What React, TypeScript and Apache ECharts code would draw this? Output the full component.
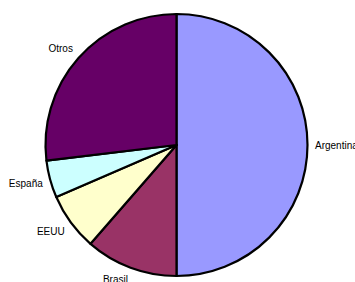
import React, { useEffect, useRef } from "react";
import * as echarts from "echarts";

const categories = ["Argentina", "Brasil", "EEUU", "España", "Otros"];
const values = [50.0, 11.4, 7.1, 4.6, 26.9];
const colors = ["#9999FF", "#993366", "#FFFFCC", "#CCFFFF", "#660066"];

const W = 355;
const H = 282;
const CX = 176.5;
const CY = 145;
const R = 131;

export default function App() {
  const ref = useRef<HTMLDivElement>(null);
  useEffect(() => {
    if (!ref.current) return;
    const chart = echarts.init(ref.current, null, { renderer: "svg" });
    const total = values.reduce((a, b) => a + b, 0);
    const mids: number[] = [];
    let acc = 0;
    values.forEach((v) => {
      mids.push(((acc + v / 2) / total) * Math.PI * 2);
      acc += v;
    });
    chart.setOption({
      animation: false,
      backgroundColor: "#ffffff",
      series: [
        {
          type: "pie",
          center: [CX, CY],
          radius: R,
          startAngle: 90,
          clockwise: true,
          silent: true,
          data: categories.map((c, i) => ({
            name: c,
            value: values[i],
            itemStyle: { color: colors[i] },
          })),
          itemStyle: { borderColor: "#000000", borderWidth: 2.2 },
          label: {
            show: true,
            position: "outside",
            formatter: "{b}",
            fontSize: 10,
            color: "#000000",
            fontFamily: "Liberation Sans, Arial, sans-serif",
            overflow: "none",
            width: 80,
            edgeDistance: 0,
          },
          labelLine: { show: false, length: 6, length2: 0 },
          labelLayout: (params: any) => {
            const th = mids[params.dataIndex];
            const ux = Math.sin(th);
            const uy = -Math.cos(th);
            const d = R + 7.5;
            const px = CX + d * ux;
            const py = CY + d * uy;
            const h = 10;
            const k = Math.max(-1, Math.min(1, uy * 2));
            return {
              x: px,
              y: py + (h / 2) * k,
              align: ux > 0.02 ? "left" : ux < -0.02 ? "right" : "center",
              verticalAlign: "middle",
              hideOverlap: false,
              moveOverlap: "none",
            };
          },
        },
      ],
    });
    return () => chart.dispose();
  }, []);
  return (
    <div
      ref={ref}
      style={{ position: "fixed", left: 0, top: 0, width: W, height: H }}
    />
  );
}
